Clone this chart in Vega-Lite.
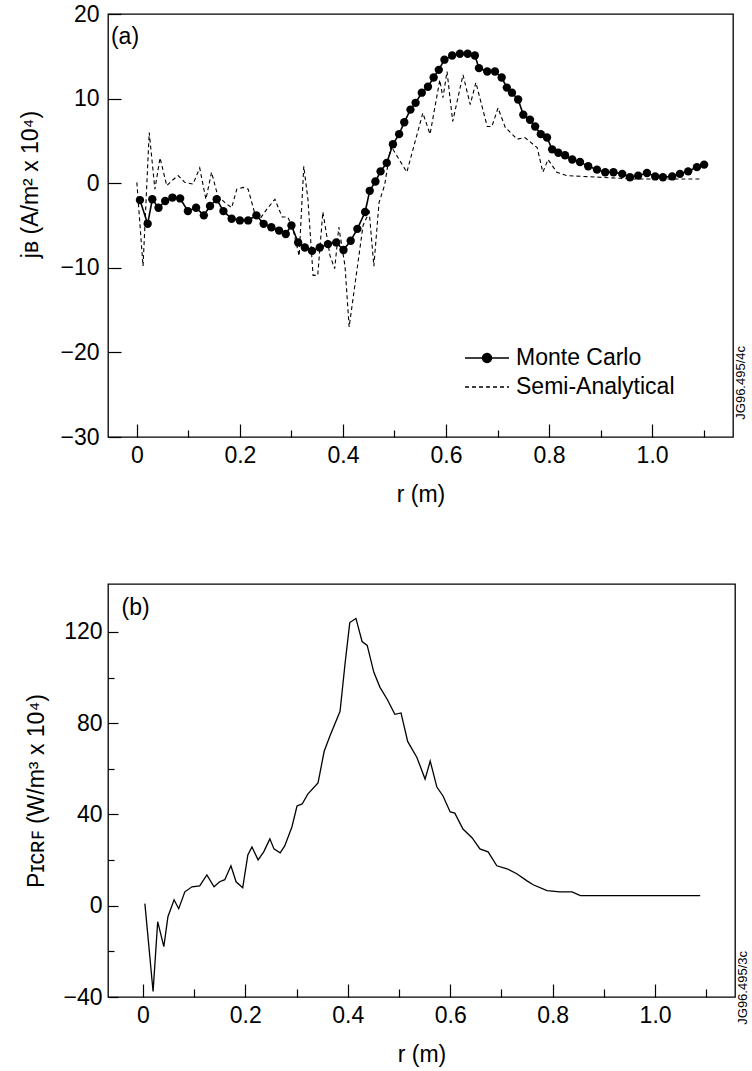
{
  "$schema": "https://vega.github.io/schema/vega-lite/v6.json",
  "background": "white",
  "padding": {"left": 18, "top": 2, "right": 5, "bottom": 1},
  "spacing": 76,
  "config": {
    "font": "Liberation Sans",
    "view": {"stroke": "black", "strokeWidth": 1.3},
    "axis": {
      "domain": false, "grid": false,
      "labelFont": "Liberation Sans", "labelFontSize": 23, "labelColor": "black",
      "titleFont": "Liberation Sans", "titleFontSize": 23, "titleFontWeight": "normal", "titleColor": "black",
      "tickColor": "black", "tickWidth": 1.2,
      "labelFlush": false, "labelOverlap": false, "labelBound": false
    },
    "text": {"font": "Liberation Sans", "color": "black"}
  },
  "datasets": {
    "jb": [
      {"series": "Monte Carlo", "r": 0.006, "j": -2.0},
      {"series": "Monte Carlo", "r": 0.021, "j": -4.8},
      {"series": "Monte Carlo", "r": 0.030, "j": -1.9},
      {"series": "Monte Carlo", "r": 0.042, "j": -2.9},
      {"series": "Monte Carlo", "r": 0.055, "j": -2.1},
      {"series": "Monte Carlo", "r": 0.069, "j": -1.7},
      {"series": "Monte Carlo", "r": 0.084, "j": -1.8},
      {"series": "Monte Carlo", "r": 0.099, "j": -3.3},
      {"series": "Monte Carlo", "r": 0.115, "j": -2.9},
      {"series": "Monte Carlo", "r": 0.130, "j": -3.8},
      {"series": "Monte Carlo", "r": 0.142, "j": -2.7},
      {"series": "Monte Carlo", "r": 0.155, "j": -1.9},
      {"series": "Monte Carlo", "r": 0.168, "j": -3.3},
      {"series": "Monte Carlo", "r": 0.184, "j": -4.2},
      {"series": "Monte Carlo", "r": 0.200, "j": -4.4},
      {"series": "Monte Carlo", "r": 0.216, "j": -4.4},
      {"series": "Monte Carlo", "r": 0.232, "j": -3.8},
      {"series": "Monte Carlo", "r": 0.246, "j": -4.8},
      {"series": "Monte Carlo", "r": 0.261, "j": -5.2},
      {"series": "Monte Carlo", "r": 0.276, "j": -5.6},
      {"series": "Monte Carlo", "r": 0.289, "j": -6.0},
      {"series": "Monte Carlo", "r": 0.300, "j": -5.0},
      {"series": "Monte Carlo", "r": 0.313, "j": -7.0},
      {"series": "Monte Carlo", "r": 0.326, "j": -7.6},
      {"series": "Monte Carlo", "r": 0.340, "j": -8.0},
      {"series": "Monte Carlo", "r": 0.355, "j": -7.6},
      {"series": "Monte Carlo", "r": 0.371, "j": -7.2},
      {"series": "Monte Carlo", "r": 0.387, "j": -7.0},
      {"series": "Monte Carlo", "r": 0.401, "j": -7.9},
      {"series": "Monte Carlo", "r": 0.415, "j": -6.8},
      {"series": "Monte Carlo", "r": 0.428, "j": -5.4},
      {"series": "Monte Carlo", "r": 0.443, "j": -3.4},
      {"series": "Monte Carlo", "r": 0.452, "j": -0.9},
      {"series": "Monte Carlo", "r": 0.463, "j": 0.2},
      {"series": "Monte Carlo", "r": 0.473, "j": 1.4},
      {"series": "Monte Carlo", "r": 0.485, "j": 2.4},
      {"series": "Monte Carlo", "r": 0.497, "j": 4.6},
      {"series": "Monte Carlo", "r": 0.509, "j": 5.8},
      {"series": "Monte Carlo", "r": 0.519, "j": 7.2},
      {"series": "Monte Carlo", "r": 0.531, "j": 8.7},
      {"series": "Monte Carlo", "r": 0.541, "j": 9.5},
      {"series": "Monte Carlo", "r": 0.553, "j": 10.7},
      {"series": "Monte Carlo", "r": 0.565, "j": 11.4},
      {"series": "Monte Carlo", "r": 0.576, "j": 12.5},
      {"series": "Monte Carlo", "r": 0.586, "j": 13.4},
      {"series": "Monte Carlo", "r": 0.597, "j": 14.6},
      {"series": "Monte Carlo", "r": 0.612, "j": 15.1},
      {"series": "Monte Carlo", "r": 0.627, "j": 15.3},
      {"series": "Monte Carlo", "r": 0.642, "j": 15.3},
      {"series": "Monte Carlo", "r": 0.656, "j": 15.1},
      {"series": "Monte Carlo", "r": 0.664, "j": 13.6},
      {"series": "Monte Carlo", "r": 0.680, "j": 13.2},
      {"series": "Monte Carlo", "r": 0.695, "j": 13.2},
      {"series": "Monte Carlo", "r": 0.708, "j": 12.5},
      {"series": "Monte Carlo", "r": 0.718, "j": 11.3},
      {"series": "Monte Carlo", "r": 0.728, "j": 10.7},
      {"series": "Monte Carlo", "r": 0.740, "j": 9.9},
      {"series": "Monte Carlo", "r": 0.750, "j": 8.1},
      {"series": "Monte Carlo", "r": 0.763, "j": 7.5},
      {"series": "Monte Carlo", "r": 0.773, "j": 6.7},
      {"series": "Monte Carlo", "r": 0.784, "j": 5.8},
      {"series": "Monte Carlo", "r": 0.796, "j": 5.4},
      {"series": "Monte Carlo", "r": 0.806, "j": 4.0},
      {"series": "Monte Carlo", "r": 0.818, "j": 3.6},
      {"series": "Monte Carlo", "r": 0.831, "j": 3.3},
      {"series": "Monte Carlo", "r": 0.845, "j": 2.8},
      {"series": "Monte Carlo", "r": 0.860, "j": 2.5},
      {"series": "Monte Carlo", "r": 0.876, "j": 2.0},
      {"series": "Monte Carlo", "r": 0.893, "j": 1.6},
      {"series": "Monte Carlo", "r": 0.909, "j": 1.3},
      {"series": "Monte Carlo", "r": 0.925, "j": 1.3},
      {"series": "Monte Carlo", "r": 0.942, "j": 1.1},
      {"series": "Monte Carlo", "r": 0.957, "j": 0.7},
      {"series": "Monte Carlo", "r": 0.973, "j": 0.9},
      {"series": "Monte Carlo", "r": 0.990, "j": 1.2},
      {"series": "Monte Carlo", "r": 1.006, "j": 0.8},
      {"series": "Monte Carlo", "r": 1.021, "j": 0.7},
      {"series": "Monte Carlo", "r": 1.039, "j": 0.8},
      {"series": "Monte Carlo", "r": 1.054, "j": 1.1},
      {"series": "Monte Carlo", "r": 1.070, "j": 1.4},
      {"series": "Monte Carlo", "r": 1.087, "j": 1.9},
      {"series": "Monte Carlo", "r": 1.101, "j": 2.2},
      {"series": "Semi-Analytical", "r": 0.000, "j": 0.1},
      {"series": "Semi-Analytical", "r": 0.012, "j": -9.8},
      {"series": "Semi-Analytical", "r": 0.024, "j": 6.0},
      {"series": "Semi-Analytical", "r": 0.035, "j": -0.7},
      {"series": "Semi-Analytical", "r": 0.045, "j": 3.0},
      {"series": "Semi-Analytical", "r": 0.058, "j": -0.3},
      {"series": "Semi-Analytical", "r": 0.068, "j": 0.3},
      {"series": "Semi-Analytical", "r": 0.080, "j": 0.9},
      {"series": "Semi-Analytical", "r": 0.093, "j": 0.1},
      {"series": "Semi-Analytical", "r": 0.109, "j": -0.1},
      {"series": "Semi-Analytical", "r": 0.122, "j": 1.8},
      {"series": "Semi-Analytical", "r": 0.134, "j": -1.9},
      {"series": "Semi-Analytical", "r": 0.145, "j": 1.3},
      {"series": "Semi-Analytical", "r": 0.157, "j": -1.5},
      {"series": "Semi-Analytical", "r": 0.171, "j": -2.3},
      {"series": "Semi-Analytical", "r": 0.184, "j": -2.9},
      {"series": "Semi-Analytical", "r": 0.194, "j": -0.7},
      {"series": "Semi-Analytical", "r": 0.206, "j": -0.5},
      {"series": "Semi-Analytical", "r": 0.216, "j": -0.7},
      {"series": "Semi-Analytical", "r": 0.229, "j": -3.6},
      {"series": "Semi-Analytical", "r": 0.239, "j": -4.2},
      {"series": "Semi-Analytical", "r": 0.252, "j": -3.1},
      {"series": "Semi-Analytical", "r": 0.268, "j": -1.9},
      {"series": "Semi-Analytical", "r": 0.282, "j": -4.0},
      {"series": "Semi-Analytical", "r": 0.293, "j": -4.0},
      {"series": "Semi-Analytical", "r": 0.303, "j": -5.4},
      {"series": "Semi-Analytical", "r": 0.315, "j": -8.6},
      {"series": "Semi-Analytical", "r": 0.324, "j": 2.0},
      {"series": "Semi-Analytical", "r": 0.332, "j": -1.9},
      {"series": "Semi-Analytical", "r": 0.342, "j": -10.9},
      {"series": "Semi-Analytical", "r": 0.351, "j": -10.9},
      {"series": "Semi-Analytical", "r": 0.361, "j": -3.4},
      {"series": "Semi-Analytical", "r": 0.375, "j": -8.6},
      {"series": "Semi-Analytical", "r": 0.384, "j": -10.1},
      {"series": "Semi-Analytical", "r": 0.392, "j": -5.2},
      {"series": "Semi-Analytical", "r": 0.404, "j": -9.8},
      {"series": "Semi-Analytical", "r": 0.412, "j": -17.0},
      {"series": "Semi-Analytical", "r": 0.439, "j": -5.0},
      {"series": "Semi-Analytical", "r": 0.451, "j": -3.4},
      {"series": "Semi-Analytical", "r": 0.460, "j": -9.8},
      {"series": "Semi-Analytical", "r": 0.470, "j": -2.3},
      {"series": "Semi-Analytical", "r": 0.481, "j": -0.2},
      {"series": "Semi-Analytical", "r": 0.493, "j": 4.4},
      {"series": "Semi-Analytical", "r": 0.524, "j": 1.3},
      {"series": "Semi-Analytical", "r": 0.555, "j": 8.3},
      {"series": "Semi-Analytical", "r": 0.569, "j": 5.8},
      {"series": "Semi-Analytical", "r": 0.588, "j": 12.2},
      {"series": "Semi-Analytical", "r": 0.594, "j": 10.1},
      {"series": "Semi-Analytical", "r": 0.602, "j": 13.2},
      {"series": "Semi-Analytical", "r": 0.613, "j": 7.3},
      {"series": "Semi-Analytical", "r": 0.633, "j": 12.8},
      {"series": "Semi-Analytical", "r": 0.647, "j": 9.3},
      {"series": "Semi-Analytical", "r": 0.658, "j": 11.9},
      {"series": "Semi-Analytical", "r": 0.680, "j": 6.7},
      {"series": "Semi-Analytical", "r": 0.689, "j": 6.7},
      {"series": "Semi-Analytical", "r": 0.701, "j": 8.9},
      {"series": "Semi-Analytical", "r": 0.715, "j": 6.6},
      {"series": "Semi-Analytical", "r": 0.738, "j": 5.2},
      {"series": "Semi-Analytical", "r": 0.753, "j": 5.4},
      {"series": "Semi-Analytical", "r": 0.777, "j": 4.2},
      {"series": "Semi-Analytical", "r": 0.788, "j": 1.3},
      {"series": "Semi-Analytical", "r": 0.798, "j": 2.8},
      {"series": "Semi-Analytical", "r": 0.815, "j": 1.3},
      {"series": "Semi-Analytical", "r": 0.834, "j": 0.9},
      {"series": "Semi-Analytical", "r": 0.899, "j": 0.7},
      {"series": "Semi-Analytical", "r": 0.963, "j": 0.5},
      {"series": "Semi-Analytical", "r": 1.093, "j": 0.5}
    ],
    "picrf": [
      {"r": 0.004, "p": 0.9}, {"r": 0.020, "p": -37.6}, {"r": 0.029, "p": -7.0},
      {"r": 0.041, "p": -17.9}, {"r": 0.049, "p": -4.8}, {"r": 0.061, "p": 2.6},
      {"r": 0.070, "p": -1.3}, {"r": 0.082, "p": 6.1}, {"r": 0.096, "p": 8.3},
      {"r": 0.111, "p": 8.7}, {"r": 0.125, "p": 13.5}, {"r": 0.139, "p": 8.3},
      {"r": 0.150, "p": 10.5}, {"r": 0.160, "p": 11.4}, {"r": 0.172, "p": 17.5},
      {"r": 0.182, "p": 10.5}, {"r": 0.195, "p": 7.9}, {"r": 0.205, "p": 22.3},
      {"r": 0.213, "p": 25.8}, {"r": 0.225, "p": 20.1}, {"r": 0.236, "p": 23.6},
      {"r": 0.248, "p": 29.3}, {"r": 0.256, "p": 24.9}, {"r": 0.268, "p": 23.2},
      {"r": 0.277, "p": 26.2}, {"r": 0.291, "p": 34.5}, {"r": 0.301, "p": 43.7},
      {"r": 0.311, "p": 44.6}, {"r": 0.322, "p": 48.9}, {"r": 0.342, "p": 53.8},
      {"r": 0.354, "p": 67.7}, {"r": 0.365, "p": 74.3}, {"r": 0.385, "p": 85.2},
      {"r": 0.395, "p": 106.6}, {"r": 0.404, "p": 124.1}, {"r": 0.416, "p": 125.9},
      {"r": 0.428, "p": 115.8}, {"r": 0.438, "p": 114.1}, {"r": 0.451, "p": 102.3},
      {"r": 0.463, "p": 95.7}, {"r": 0.477, "p": 90.5}, {"r": 0.492, "p": 83.9},
      {"r": 0.504, "p": 84.5}, {"r": 0.517, "p": 72.0}, {"r": 0.535, "p": 65.0},
      {"r": 0.551, "p": 55.5}, {"r": 0.561, "p": 63.4}, {"r": 0.574, "p": 52.0},
      {"r": 0.586, "p": 48.1}, {"r": 0.600, "p": 41.1}, {"r": 0.609, "p": 40.6},
      {"r": 0.625, "p": 33.6}, {"r": 0.643, "p": 29.7}, {"r": 0.658, "p": 24.9},
      {"r": 0.674, "p": 23.6}, {"r": 0.691, "p": 17.5}, {"r": 0.711, "p": 16.2},
      {"r": 0.730, "p": 14.0}, {"r": 0.750, "p": 10.9}, {"r": 0.762, "p": 9.2},
      {"r": 0.789, "p": 6.6}, {"r": 0.814, "p": 6.1}, {"r": 0.838, "p": 6.1},
      {"r": 0.854, "p": 4.4}, {"r": 0.893, "p": 4.4}, {"r": 0.957, "p": 4.4},
      {"r": 1.088, "p": 4.4}
    ],
    "notesA": [
      {"r": -0.023, "j": 17.3, "label": "(a)", "kind": "panel"},
      {"r": 1.172, "j": -23.6, "label": "JG96.495/4c", "kind": "code"}
    ],
    "notesB": [
      {"r": -0.014, "p": 130.7, "label": "(b)", "kind": "panel"},
      {"r": 1.172, "p": -36, "label": "JG96.495/3c", "kind": "code"}
    ]
  },
  "vconcat": [
    {
      "width": 625,
      "height": 423,
      "resolve": {"axis": {"x": "independent", "y": "independent"}},
      "layer": [
        {
          "data": {"name": "jb"},
          "transform": [{"filter": "datum.series === 'Monte Carlo'"}],
          "mark": {"type": "line", "color": "black", "strokeWidth": 1.6},
          "encoding": {
            "x": {
              "field": "r", "type": "quantitative",
              "scale": {"domain": [-0.056, 1.157], "nice": false, "zero": false},
              "axis": {
                "orient": "bottom",
                "title": "r (m)",
                "values": [0, 0.2, 0.4, 0.6, 0.8, 1.0],
                "labelExpr": "datum.value === 0 ? '0' : format(datum.value, '.1f')",
                "tickSize": -13,
                "labelPadding": 20,
                "titlePadding": 16
              }
            },
            "y": {
              "field": "j", "type": "quantitative",
              "scale": {"domain": [-30, 20], "nice": false, "zero": false},
              "axis": {
                "orient": "left",
                "title": "jʙ (A/m² x 10⁴)",
                "values": [-30, -20, -10, 0, 10, 20],
                "tickSize": -13,
                "labelPadding": 22,
                "titleX": -78, "titleY": 170,
                "titleAngle": 270, "titleAlign": "center", "titleBaseline": "middle"
              }
            },
            "strokeDash": {
              "field": "series", "type": "nominal",
              "scale": {"domain": ["Monte Carlo", "Semi-Analytical"], "range": [[1, 0], [4, 3]]},
              "legend": {
                "title": null, "orient": "none", "legendX": 367, "legendY": 332,
                "padding": 0, "rowPadding": 5,
                "labelFont": "Liberation Sans", "labelFontSize": 23, "labelColor": "black", "labelOffset": 17,
                "symbolSize": 484, "symbolStrokeWidth": 1.3, "symbolStrokeColor": "black",
                "encode": {
                  "symbols": {
                    "update": {
                      "shape": {"signal": "datum.value === 'Monte Carlo' ? 'M-2,0H2M0.41,0A0.41,0.41,0,1,1,-0.41,0A0.41,0.41,0,1,1,0.41,0Z' : 'M-2,0H2'"},
                      "fill": {"signal": "datum.value === 'Monte Carlo' ? 'black' : 'transparent'"},
                      "stroke": {"value": "black"},
                      "strokeWidth": {"value": 1.3},
                      "strokeDash": {"signal": "datum.value === 'Monte Carlo' ? [1, 0] : [4, 3]"},
                      "opacity": {"value": 1}
                    }
                  }
                }
              }
            }
          }
        },
        {
          "data": {"name": "jb"},
          "transform": [{"filter": "datum.series === 'Semi-Analytical'"}],
          "mark": {"type": "line", "color": "black", "strokeWidth": 1.1},
          "encoding": {
            "x": {"field": "r", "type": "quantitative", "axis": null},
            "y": {"field": "j", "type": "quantitative", "axis": null},
            "strokeDash": {"field": "series", "type": "nominal"}
          }
        },
        {
          "data": {"name": "jb"},
          "transform": [{"filter": "datum.series === 'Monte Carlo'"}],
          "mark": {"type": "circle", "size": 70, "color": "black", "opacity": 1},
          "encoding": {
            "x": {"field": "r", "type": "quantitative", "axis": null},
            "y": {"field": "j", "type": "quantitative", "axis": null}
          }
        },
        {
          "data": {"name": "notesA"},
          "mark": {"type": "text", "baseline": "middle"},
          "encoding": {
            "x": {
              "field": "r", "type": "quantitative",
              "axis": {"orient": "bottom", "values": [0.1, 0.3, 0.5, 0.7, 0.9, 1.1], "tickSize": -7, "labels": false, "title": null}
            },
            "y": {"field": "j", "type": "quantitative", "axis": null},
            "text": {"field": "label"},
            "align": {"condition": {"test": "datum.kind === 'panel'", "value": "left"}, "value": "center"},
            "angle": {"condition": {"test": "datum.kind === 'panel'", "value": 0}, "value": 270},
            "size": {"condition": {"test": "datum.kind === 'panel'", "value": 23}, "value": 13}
          }
        }
      ]
    },
    {
      "width": 627,
      "height": 413,
      "resolve": {"axis": {"x": "independent", "y": "independent"}},
      "layer": [
        {
          "data": {"name": "picrf"},
          "mark": {"type": "line", "color": "black", "strokeWidth": 1.3},
          "encoding": {
            "x": {
              "field": "r", "type": "quantitative",
              "scale": {"domain": [-0.068, 1.156], "nice": false, "zero": false},
              "axis": {
                "orient": "bottom",
                "title": "r (m)",
                "values": [0, 0.2, 0.4, 0.6, 0.8, 1.0],
                "labelExpr": "datum.value === 0 ? '0' : format(datum.value, '.1f')",
                "tickSize": -13,
                "labelPadding": 20,
                "titlePadding": 16
              }
            },
            "y": {
              "field": "p", "type": "quantitative",
              "scale": {"domain": [-40, 141], "nice": false, "zero": false},
              "axis": {
                "orient": "left",
                "title": "Pɪᴄʀꜰ (W/m³ x 10⁴)",
                "values": [-40, 0, 40, 80, 120],
                "tickSize": -10,
                "labelPadding": 16,
                "titleX": -72,
                "titleAngle": 270, "titleAlign": "center", "titleBaseline": "middle"
              }
            }
          }
        },
        {
          "data": {"name": "notesB"},
          "mark": {"type": "text", "baseline": "middle"},
          "encoding": {
            "x": {
              "field": "r", "type": "quantitative",
              "axis": {"orient": "bottom", "values": [0.1, 0.3, 0.5, 0.7, 0.9, 1.1], "tickSize": -8, "labels": false, "title": null}
            },
            "y": {
              "field": "p", "type": "quantitative",
              "axis": {"orient": "left", "values": [-20, 20, 60, 100], "tickSize": -6, "labels": false, "title": null}
            },
            "text": {"field": "label"},
            "align": {"condition": {"test": "datum.kind === 'panel'", "value": "left"}, "value": "center"},
            "angle": {"condition": {"test": "datum.kind === 'panel'", "value": 0}, "value": 270},
            "size": {"condition": {"test": "datum.kind === 'panel'", "value": 23}, "value": 13}
          }
        }
      ]
    }
  ]
}
